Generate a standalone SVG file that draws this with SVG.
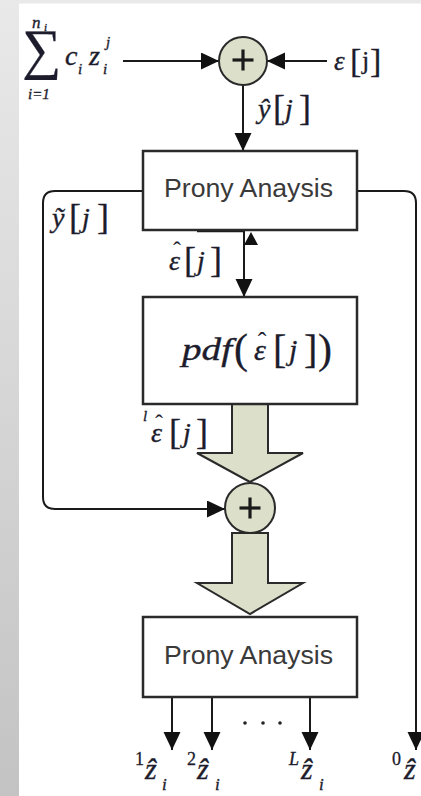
<svg xmlns="http://www.w3.org/2000/svg" width="421" height="796" viewBox="0 0 421 796">
  <defs>
    <linearGradient id="sideShade" x1="0" y1="0" x2="0" y2="1">
      <stop offset="0" stop-color="#e9e9e9"/>
      <stop offset="1" stop-color="#c3c3c3"/>
    </linearGradient>
    <marker id="arrow" markerUnits="userSpaceOnUse" markerWidth="19" markerHeight="18" refX="18" refY="8.5" orient="auto">
      <path d="M0,0 L18,8.5 L0,17 z" fill="#111"/>
    </marker>
    <style>
      .line { fill: none; stroke: #1a1a1a; stroke-width: 2; }
      .box { fill: #ffffff; stroke: #2a2a2a; stroke-width: 2.5; }
      .sum { fill: #dcdfc9; stroke: #2a2a2a; stroke-width: 2; }
      .plus { stroke: #1a1a1a; stroke-width: 3.2; }
      .block { fill: #dcdfc9; stroke: #2a2a2a; stroke-width: 2; stroke-linejoin: miter; }
      .lbl { font-family: "Liberation Sans", Arial, sans-serif; fill: #3a3a3a; }
      .m { font-family: "Liberation Serif", "DejaVu Serif", serif; font-style: italic; fill: #1c1c2c; stroke: #1c1c2c; stroke-width: 0.35; }
      .u { font-family: "Liberation Serif", "DejaVu Serif", serif; font-style: normal; fill: #1c1c2c; stroke: #1c1c2c; stroke-width: 0.3; }
      .hat { font-family: "Liberation Serif", "DejaVu Serif", serif; fill: #1c1c2c; text-anchor: middle; }
    </style>
  </defs>

  <!-- page background -->
  <rect x="0" y="0" width="421" height="796" fill="#ffffff"/>
  <rect x="0" y="0" width="421" height="3.5" fill="#e9e9e9"/>
  <rect x="0" y="0" width="19" height="796" fill="url(#sideShade)"/>

  <!-- connectors -->
  <g id="connectors">
    <line class="line" x1="123" y1="61" x2="219" y2="61" marker-end="url(#arrow)"/>
    <line class="line" x1="327" y1="61" x2="267" y2="61" marker-end="url(#arrow)"/>
    <line class="line" x1="243" y1="85" x2="243" y2="151" marker-end="url(#arrow)"/>
    <path class="line" d="M143,191 H55 Q43,191 43,203 V497 Q43,509 55,509 H225" marker-end="url(#arrow)"/>
    <path class="line" d="M357,191 H404 Q416,191 416,203 V750" marker-end="url(#arrow)"/>
    <line class="line" x1="244" y1="231" x2="244" y2="297" marker-end="url(#arrow)"/>
    <polygon points="244,245 258,245 251,232" fill="#111"/>
    <line x1="197" y1="231.5" x2="244" y2="231.5" stroke="#1a1a1a" stroke-width="1.5"/>
    <polygon class="block" points="232,404 268,404 268,453 303,453 250,482 197,453 232,453"/>
    <polygon class="block" points="232,533 268,533 268,583 303,583 250,614 197,583 232,583"/>
    <line class="line" x1="172" y1="697" x2="172" y2="750" marker-end="url(#arrow)"/>
    <line class="line" x1="212" y1="697" x2="212" y2="750" marker-end="url(#arrow)"/>
    <line class="line" x1="310" y1="697" x2="310" y2="750" marker-end="url(#arrow)"/>
    <circle cx="245" cy="723" r="1.8" fill="#222"/>
    <circle cx="263" cy="723" r="1.8" fill="#222"/>
    <circle cx="280" cy="723" r="1.8" fill="#222"/>
  </g>

  <!-- input signal: sum of exponentials -->
  <g id="signal">
    <text class="u" x="22" y="68" font-size="56" font-family="DejaVu Serif, serif" textLength="39" lengthAdjust="spacingAndGlyphs">∑</text>
    <text class="m" x="32" y="28" font-size="17">n</text>
    <text class="m" x="44" y="31" font-size="11">i</text>
    <text class="m" x="28" y="99" font-size="15">i=1</text>
    <text class="m" x="65" y="65" font-size="28">c</text>
    <text class="m" x="78" y="74" font-size="15">i</text>
    <text class="m" x="89" y="65" font-size="28">z</text>
    <text class="m" x="103" y="74" font-size="15">i</text>
    <text class="m" x="106" y="47" font-size="15">j</text>
  </g>

  <!-- noise input -->
  <g id="noise">
    <text class="m" x="334" y="70" font-size="27">ε</text>
    <text class="u" x="350" y="72" font-size="34">[</text>
    <text class="u" x="362" y="69" font-size="26">j</text>
    <text class="u" x="370" y="72" font-size="34">]</text>
  </g>

  <!-- first adder -->
  <g id="adder1">
    <circle class="sum" cx="243" cy="61" r="24"/>
    <line class="plus" x1="232.5" y1="60" x2="253.5" y2="60"/>
    <line class="plus" x1="243" y1="49.5" x2="243" y2="70.5"/>
  </g>

  <!-- estimated signal label -->
  <g id="label-yhat">
    <text class="m" x="258" y="118" font-size="28">ŷ</text>
    <text class="u" x="273" y="120" font-size="36">[</text>
    <text class="m" x="285" y="118" font-size="28">j</text>
    <text class="u" x="299" y="120" font-size="36">]</text>
  </g>

  <!-- first Prony stage -->
  <g id="prony1">
    <rect class="box" x="143" y="151" width="214" height="79"/>
    <text class="lbl" x="164" y="197" font-size="25" textLength="169" lengthAdjust="spacingAndGlyphs">Prony Anaysis</text>
  </g>

  <g id="label-ytilde">
    <text class="m" x="52" y="227" font-size="28">ỹ</text>
    <text class="u" x="69" y="229" font-size="36">[</text>
    <text class="m" x="82" y="227" font-size="28">j</text>
    <text class="u" x="97" y="229" font-size="36">]</text>
  </g>

  <g id="label-ehat">
    <text class="m" x="169" y="270" font-size="28">ε</text>
    <text class="hat" x="177" y="258" font-size="24">ˆ</text>
    <text class="u" x="184" y="272" font-size="36">[</text>
    <text class="m" x="197" y="270" font-size="28">j</text>
    <text class="u" x="210" y="272" font-size="36">]</text>
  </g>

  <!-- residual density stage -->
  <g id="pdf">
    <rect class="box" x="143" y="297" width="214" height="107"/>
    <text class="m" x="182" y="360" font-size="32" textLength="50" lengthAdjust="spacingAndGlyphs">pdf</text>
    <text class="u" x="234" y="363" font-size="42">(</text>
    <text class="m" x="254" y="360" font-size="30">ε</text>
    <text class="hat" x="262" y="350" font-size="26">ˆ</text>
    <text class="u" x="273" y="363" font-size="40">[</text>
    <text class="m" x="289" y="360" font-size="30">j</text>
    <text class="u" x="304" y="363" font-size="40">]</text>
    <text class="u" x="318" y="363" font-size="42">)</text>
  </g>

  <g id="label-lehat">
    <text class="m" x="143" y="421" font-size="15">l</text>
    <text class="m" x="151" y="442" font-size="28">ε</text>
    <text class="hat" x="159" y="431" font-size="24">ˆ</text>
    <text class="u" x="169" y="444" font-size="36">[</text>
    <text class="m" x="183" y="442" font-size="28">j</text>
    <text class="u" x="196" y="444" font-size="36">]</text>
  </g>

  <!-- second adder -->
  <g id="adder2">
    <circle class="sum" cx="250" cy="508" r="25"/>
    <line class="plus" x1="239.5" y1="508" x2="260.5" y2="508"/>
    <line class="plus" x1="250" y1="497.5" x2="250" y2="518.5"/>
  </g>

  <!-- second Prony stage -->
  <g id="prony2">
    <rect class="box" x="143" y="617" width="214" height="80"/>
    <text class="lbl" x="164" y="664" font-size="25" textLength="169" lengthAdjust="spacingAndGlyphs">Prony Anaysis</text>
  </g>

  <!-- pole estimates -->
  <g id="outputs">
    <text class="u" x="135" y="765" font-size="18">1</text>
    <text class="m" x="145" y="779" font-size="30">ẑ</text>
    <text class="m" x="162" y="790" font-size="17">i</text>
    <text class="u" x="187" y="765" font-size="18">2</text>
    <text class="m" x="197" y="779" font-size="30">ẑ</text>
    <text class="m" x="215" y="790" font-size="17">i</text>
    <text class="m" x="289" y="765" font-size="18">L</text>
    <text class="m" x="301" y="779" font-size="30">ẑ</text>
    <text class="m" x="319" y="790" font-size="17">i</text>
    <text class="u" x="392" y="765" font-size="18">0</text>
    <text class="m" x="404" y="779" font-size="30">ẑ</text>
  </g>
</svg>
